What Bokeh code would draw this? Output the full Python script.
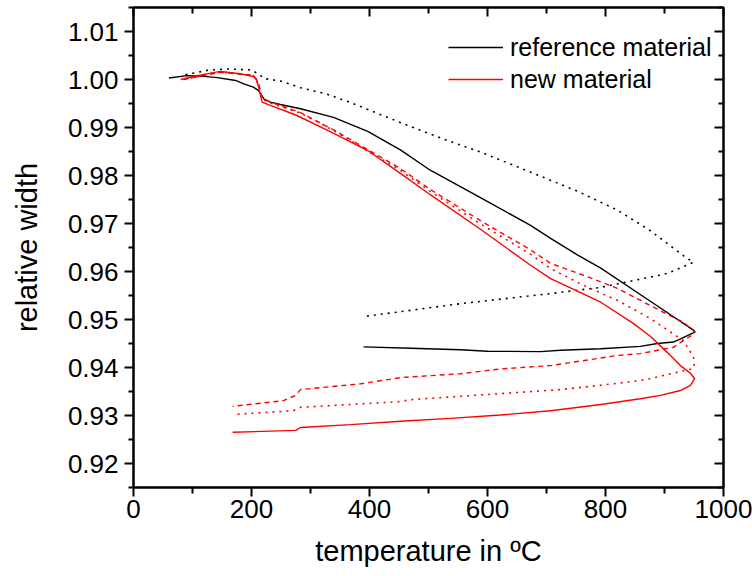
from bokeh.plotting import figure
from bokeh.models import (Range1d, LinearAxis, FixedTicker, Legend, LegendItem,
                          CustomJSTickFormatter, PrintfTickFormatter)
from bokeh.embed import file_html
from bokeh.resources import INLINE

# ---- data (temperature in degC, relative width) ----
ref1_x = [60, 91, 114, 142, 173, 187, 203, 212, 217, 222, 232, 249, 283, 339, 397, 453, 503, 588, 673, 707, 753, 792, 876, 949, 952,
          930, 915, 888, 859, 792, 724, 690, 600, 554, 470, 390]
ref1_y = [1.0003, 1.0008, 1.0007, 1.0004, 0.9998, 0.9991, 0.9984, 0.9977, 0.9967, 0.9958, 0.9953, 0.9948, 0.9939, 0.9921, 0.9892,
          0.9853, 0.9811, 0.9754, 0.9696, 0.9669, 0.9634, 0.9607, 0.9538, 0.9478, 0.9474,
          0.9461, 0.9453, 0.9450, 0.9444, 0.9439, 0.9436, 0.9433, 0.9434, 0.9437, 0.9440, 0.9443]

ref2_x = [88, 125, 159, 198, 212, 221, 249, 283, 329, 368, 453, 532, 588, 673, 753, 820, 876, 905, 932, 949,
          932, 905, 847, 792, 707, 605, 554, 390]
ref2_y = [1.0010, 1.0019, 1.0022, 1.0020, 1.0012, 1.0002, 0.9997, 0.9983, 0.9969, 0.9952, 0.9910, 0.9873, 0.9849, 0.9807,
          0.9767, 0.9728, 0.9685, 0.9658, 0.9633, 0.9619,
          0.9610, 0.9596, 0.9581, 0.9567, 0.9554, 0.9540, 0.9533, 0.9506]

new1_x = [80, 108, 147, 181, 203, 208, 212, 218, 232, 277, 336, 397, 453, 503, 588, 673, 707, 792, 847, 876, 905, 927, 944, 951,
          944, 927, 893, 859, 792, 707, 622, 537, 453, 368, 283, 275, 168]
new1_y = [1.0000, 1.0008, 1.0017, 1.0012, 1.0006, 1.0002, 0.9984, 0.9953, 0.9946, 0.9925, 0.9890, 0.9852, 0.9804, 0.9760,
          0.9688, 0.9613, 0.9585, 0.9536, 0.9492, 0.9465, 0.9431, 0.9404, 0.9388, 0.9377,
          0.9363, 0.9352, 0.9342, 0.9335, 0.9323, 0.9310, 0.9301, 0.9294, 0.9288, 0.9281, 0.9275, 0.9269, 0.9265]

new2_x = [85, 147, 203, 212, 218, 232, 283, 339, 453, 503, 588, 673, 707, 763, 820, 876, 932, 949, 951,
          932, 915, 859, 820, 707, 622, 554, 453, 385, 283, 275, 254, 168]
new2_y = [1.0000, 1.0015, 1.0009, 0.9992, 0.9962, 0.9953, 0.9931, 0.9895, 0.9814, 0.9771, 0.9706, 0.9645, 0.9617, 0.9592,
          0.9565, 0.9529, 0.9494, 0.9477, 0.9471,
          0.9456, 0.9442, 0.9429, 0.9425, 0.9404, 0.9397, 0.9387, 0.9379, 0.9366, 0.9354, 0.9342, 0.9331, 0.9319]

new3_x = [85, 147, 203, 212, 218, 232, 283, 339, 453, 503, 588, 673, 707, 763, 820, 876, 932, 949, 951,
          949, 876, 859, 792, 724, 469, 452, 283, 271, 168]
new3_y = [1.0000, 1.0016, 1.0008, 0.9990, 0.9960, 0.9951, 0.9930, 0.9894, 0.9810, 0.9767, 0.9699, 0.9636, 0.9606, 0.9571,
          0.9540, 0.9502, 0.9456, 0.9422, 0.9410,
          0.9398, 0.9377, 0.9373, 0.9363, 0.9354, 0.9333, 0.9329, 0.9317, 0.9310, 0.9302]

x_ticks = [0, 200, 400, 600, 800, 1000]
x_minor = [100, 300, 500, 700, 900]
y_ticks = [0.92, 0.93, 0.94, 0.95, 0.96, 0.97, 0.98, 0.99, 1.00, 1.01]
y_minor = [0.915, 0.925, 0.935, 0.945, 0.955, 0.965, 0.975, 0.985, 0.995, 1.005, 1.015]

FONT = "Liberation Sans"

p = figure(width=752, height=576, output_backend="svg", toolbar_location=None,
           x_range=Range1d(0, 1000), y_range=Range1d(0.915, 1.015),
           min_border_left=133, min_border_right=29, min_border_top=7, min_border_bottom=89)
p.grid.visible = False
p.background_fill_color = "white"
p.border_fill_color = "white"
p.outline_line_color = "black"
p.outline_line_width = 2

xt = FixedTicker(ticks=x_ticks, minor_ticks=x_minor)
yt = FixedTicker(ticks=y_ticks, minor_ticks=y_minor)

xa = p.xaxis[0]
xa.ticker = xt
ya = p.yaxis[0]
ya.ticker = yt
ya.formatter = PrintfTickFormatter(format="%.2f")

for ax, mt in ((xa, 6), (ya, 5)):
    ax.axis_line_width = 2
    ax.major_tick_line_width = 2
    ax.minor_tick_line_width = 2
    ax.major_tick_out = 9
    ax.major_tick_in = 0
    ax.minor_tick_out = mt
    ax.minor_tick_in = 0
    ax.major_label_text_font = FONT
    ax.major_label_text_font_size = "26px"
    ax.major_label_text_color = "black"
    ax.axis_label_text_font = FONT
    ax.axis_label_text_font_size = "29px"
    ax.axis_label_text_font_style = "normal"
    ax.axis_label_text_color = "black"

xa.axis_label = "temperature in ºC"
xa.major_label_standoff = 3
xa.axis_label_standoff = 14
ya.axis_label = "relative width"
ya.major_label_standoff = 6
ya.axis_label_standoff = 22

for loc, tk, mt in (("above", xt, 6), ("right", yt, 5)):
    ax = LinearAxis(ticker=tk, formatter=CustomJSTickFormatter(code="return ''"),
                    axis_line_width=2, major_tick_line_width=2, minor_tick_line_width=2,
                    major_tick_in=9, major_tick_out=0, minor_tick_in=mt, minor_tick_out=0,
                    major_label_standoff=0, major_label_text_font_size="1px")
    p.add_layout(ax, loc)

r1 = p.line(ref1_x, ref1_y, line_color="black", line_width=1.4)
p.line(ref2_x, ref2_y, line_color="black", line_width=1.6, line_dash="2 5")
r2 = p.line(new1_x, new1_y, line_color="red", line_width=1.4)
p.line(new2_x, new2_y, line_color="red", line_width=1.4, line_dash="5 4")
p.line(new3_x, new3_y, line_color="red", line_width=1.6, line_dash="2 5")

legend = Legend(items=[LegendItem(label="reference material", renderers=[r1]),
                       LegendItem(label="new material", renderers=[r2])],
                location=(315, 393), glyph_width=55, glyph_height=30, label_height=30,
                label_standoff=7, spacing=2, padding=0, margin=0,
                border_line_color=None, background_fill_alpha=0,
                label_text_font=FONT, label_text_font_size="25px", label_text_color="black")
p.add_layout(legend)

open("out.html", "w").write(file_html(p, INLINE))
